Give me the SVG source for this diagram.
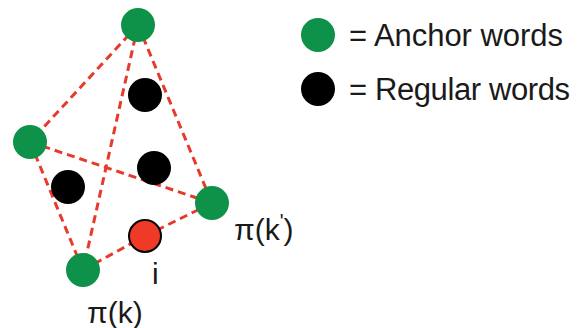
<svg xmlns="http://www.w3.org/2000/svg" width="584" height="328" viewBox="0 0 584 328">
<style>
.e{stroke:#e8392b;stroke-width:3;stroke-dasharray:8 5;fill:none}
.g{fill:#0e9148}
.b{fill:#000}
.r{fill:#ee3a27;stroke:#000;stroke-width:2}
text{font-family:"Liberation Sans",Arial,sans-serif;fill:#1a1a1a}
.l{font-size:31px}
.s{font-size:30px}
</style>
<rect width="584" height="328" fill="#fff"/>
<g id="connectors">
<line class="e" x1="138" y1="25" x2="30" y2="142"/>
<line class="e" x1="138" y1="25" x2="212" y2="203"/>
<line class="e" x1="138" y1="25" x2="83" y2="270"/>
<line class="e" x1="30" y1="142" x2="212" y2="203"/>
<line class="e" x1="30" y1="142" x2="83" y2="270"/>
<line class="e" x1="83" y1="270" x2="145" y2="236"/>
<line class="e" x1="145" y1="236" x2="212" y2="203"/>
</g>
<g id="anchor-top"><circle class="g" cx="138" cy="25" r="17"/></g>
<g id="anchor-left"><circle class="g" cx="30" cy="142" r="17"/></g>
<g id="anchor-right"><circle class="g" cx="212" cy="203" r="17"/><text class="s" x="234" y="240">π(k<tspan font-size="20" dy="-12">'</tspan><tspan dy="12">)</tspan></text></g>
<g id="anchor-bottom"><circle class="g" cx="83" cy="270" r="17"/><text class="s" x="87" y="323">π(k)</text></g>
<g id="regular-1"><circle class="b" cx="145" cy="95" r="17"/></g>
<g id="regular-2"><circle class="b" cx="154" cy="168" r="17"/></g>
<g id="regular-3"><circle class="b" cx="68" cy="187" r="17"/></g>
<g id="word-i"><circle class="r" cx="145" cy="236" r="16"/><text class="s" x="152" y="284">i</text></g>
<g id="legend-anchor"><circle class="g" cx="318" cy="35" r="17"/><text class="l" x="349" y="46" textLength="214">= Anchor words</text></g>
<g id="legend-regular"><circle class="b" cx="318" cy="89" r="17"/><text class="l" x="349" y="100" textLength="221">= Regular words</text></g>
</svg>
